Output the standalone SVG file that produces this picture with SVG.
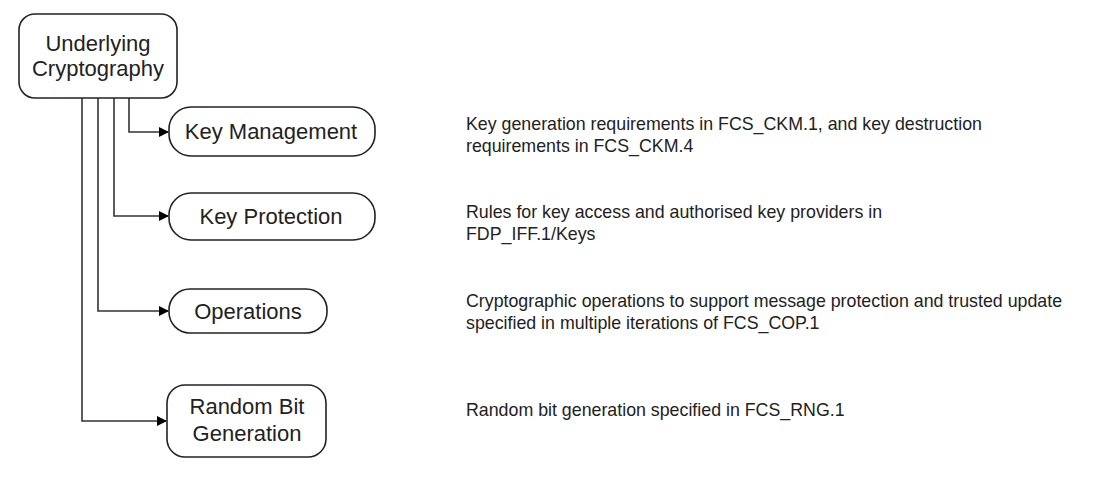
<svg xmlns="http://www.w3.org/2000/svg" width="1114" height="482" viewBox="0 0 1114 482">
<defs>
<marker id="arr" markerWidth="10" markerHeight="10" refX="9" refY="5" orient="auto" markerUnits="userSpaceOnUse">
<path d="M0,0 L10,5 L0,10 Z" fill="#000"/>
</marker>
<style>
.box{fill:#fff;stroke:#222;stroke-width:1.6}
.nt{font-family:"Liberation Sans",Arial,sans-serif;font-size:22px;fill:#222;text-anchor:middle}
.dt{font-family:"Liberation Sans",Arial,sans-serif;font-size:17.8px;fill:#222}
.cn{fill:none;stroke:#333;stroke-width:1.6}
</style>
</defs>
<rect width="1114" height="482" fill="#fff"/>
<g id="connectors">
<path class="cn" d="M129,98 V132 H168" marker-end="url(#arr)"/>
<path class="cn" d="M114,98 V216 H168" marker-end="url(#arr)"/>
<path class="cn" d="M98,98 V311 H168" marker-end="url(#arr)"/>
<path class="cn" d="M82,98 V421 H166" marker-end="url(#arr)"/>
</g>
<g id="root">
<rect class="box" x="19" y="14" width="158" height="84" rx="16"/>
<text class="nt" x="98" y="51">Underlying</text>
<text class="nt" x="98" y="76">Cryptography</text>
</g>
<g id="key-management">
<rect class="box" x="169" y="107" width="206" height="49" rx="22"/>
<text class="nt" x="271" y="139">Key Management</text>
</g>
<g id="key-protection">
<rect class="box" x="169" y="193" width="206" height="47" rx="22"/>
<text class="nt" x="271" y="224">Key Protection</text>
</g>
<g id="operations">
<rect class="box" x="169" y="289" width="158" height="44" rx="21"/>
<text class="nt" x="248" y="319">Operations</text>
</g>
<g id="random-bit">
<rect class="box" x="167" y="385" width="159" height="72" rx="18"/>
<text class="nt" x="247" y="414">Random Bit</text>
<text class="nt" x="247" y="441">Generation</text>
</g>
<g id="descriptions">
<text class="dt" x="466" y="130">Key generation requirements in FCS_CKM.1, and key destruction</text>
<text class="dt" x="466" y="152">requirements in FCS_CKM.4</text>
<text class="dt" x="466" y="218">Rules for key access and authorised key providers in</text>
<text class="dt" x="466" y="240">FDP_IFF.1/Keys</text>
<text class="dt" x="466" y="307">Cryptographic operations to support message protection and trusted update</text>
<text class="dt" x="466" y="329">specified in multiple iterations of FCS_COP.1</text>
<text class="dt" x="466" y="416">Random bit generation specified in FCS_RNG.1</text>
</g>
</svg>
